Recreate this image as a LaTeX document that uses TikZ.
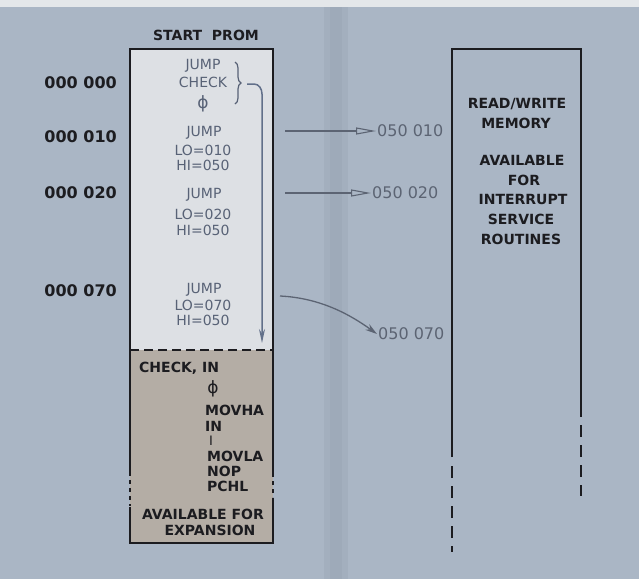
\documentclass[tikz,border=0pt]{standalone}
\usepackage{fontspec}
\setmainfont{DejaVu Sans}
\usetikzlibrary{arrows.meta,decorations.pathreplacing}
\definecolor{bg}{RGB}{170,182,197}
\definecolor{bgdark}{RGB}{158,170,185}
\definecolor{topstrip}{RGB}{228,231,234}
\definecolor{upperfill}{RGB}{221,224,228}
\definecolor{lowerfill}{RGB}{180,173,165}
\definecolor{upperink}{RGB}{88,98,118}
\definecolor{ink}{RGB}{28,28,32}
\definecolor{arrowblue}{RGB}{98,112,138}
\definecolor{addrink}{RGB}{92,100,115}
\tikzset{
  boxline/.style={draw=ink, line width=1.6pt},
  dashline/.style={draw=ink, line width=1.6pt, dash pattern=on 12pt off 8pt},
  sidedash/.style={draw=ink, line width=1.4pt, dash pattern=on 4pt off 4pt},
  divider/.style={draw=ink, line width=1.8pt, dash pattern=on 9pt off 5pt},
  addr/.style={anchor=east, inner sep=0pt, text=ink, font=\bfseries\fontsize{16}{18}\selectfont},
  utxt/.style={inner sep=0pt, text=upperink, font=\fontsize{14}{16}\selectfont},
  ltxt/.style={anchor=west, inner sep=0pt, text=ink, font=\bfseries\fontsize{14}{16}\selectfont},
  ctxt/.style={inner sep=0pt, text=ink, font=\bfseries\fontsize{14}{16}\selectfont},
  rtxt/.style={anchor=west, inner sep=1pt, text=addrink, font=\fontsize{16}{18}\selectfont},
  openarrow/.style={draw=addrink, line width=1.1pt, -{Triangle[open, length=20pt, width=7pt]}},
  curvearrow/.style={draw=addrink, line width=1.3pt, -{Stealth[length=12pt, width=7pt]}},
  bluearrow/.style={draw=arrowblue, line width=1.5pt, -{Stealth[length=14pt, width=6pt]}},
  bracestyle/.style={draw=upperink, line width=1.2pt, decorate, decoration={brace, amplitude=6pt}}
}
\begin{document}
\begin{tikzpicture}[x=1pt,y=-1pt]
\useasboundingbox (0,0) rectangle (639,579);
\fill[bg] (0,0) rectangle (639,579);
\fill[bgdark, opacity=0.5] (324,0) rectangle (348,579);
\fill[bgdark] (330,0) rectangle (342,579);
\fill[topstrip] (0,0) rectangle (639,7);

% left PROM box
\fill[upperfill] (130,49) rectangle (273,350);
\fill[lowerfill] (130,350) rectangle (273,543);
\draw[boxline] (130,350) -- (130,49) -- (273,49) -- (273,350);
\draw[divider] (130,350) -- (273,350);
\draw[boxline] (130,350) -- (130,476);
\draw[sidedash] (130,480) -- (130,506);
\draw[boxline] (130,507) -- (130,543) -- (273,543) -- (273,498);
\draw[boxline] (273,350) -- (273,477);
\draw[sidedash] (273,481) -- (273,497);

\node[ctxt] (title) at (206,35) {START\ \ PROM};

% addresses
\node[addr] (a0) at (117,83) {000 000};
\node[addr] (a1) at (117,137) {000 010};
\node[addr] (a2) at (117,193) {000 020};
\node[addr] (a7) at (117,291) {000 070};

% upper box contents
\node[utxt] (j0) at (203,66) {JUMP};
\node[utxt] (chk) at (203,82) {CHECK};
\node[utxt, font=\fontsize{17}{19}\selectfont] (phi0) at (203,104) {ϕ};
\node[utxt] (j1) at (204,133) {JUMP};
\node[utxt] (lo1) at (203,150) {LO=010};
\node[utxt] (hi1) at (203,165) {HI=050};
\node[utxt] (j2) at (204,195) {JUMP};
\node[utxt] (lo2) at (203,214) {LO=020};
\node[utxt] (hi2) at (203,230) {HI=050};
\node[utxt] (j7) at (204,290) {JUMP};
\node[utxt] (lo7) at (203,305) {LO=070};
\node[utxt] (hi7) at (203,320) {HI=050};

\draw[bracestyle] (235,62) -- (235,104);
\coordinate (bt) at (247,84);
\coordinate (bd) at (262,343);
\draw[bluearrow] (bt) -- (254,84) to[out=0,in=90] (262,94) -- (bd);

% lower box contents
\node[ltxt] (chkin) at (139,368) {CHECK, IN};
\node[ctxt, font=\fontsize{17}{19}\selectfont] (phi1) at (213,389) {ϕ};
\node[ltxt] (m1) at (205,410) {MOVHA};
\node[ltxt] (m2) at (205,426) {IN};
\node[ltxt, font=\fontsize{13}{15}\selectfont] (m3) at (209,441) {I};
\node[ltxt] (m4) at (207,456) {MOVLA};
\node[ltxt] (m5) at (207,471) {NOP};
\node[ltxt] (m6) at (207,486) {PCHL};
\node[ctxt] (av) at (203,514) {AVAILABLE FOR};
\node[ctxt] (ex) at (210,530) {EXPANSION};

% right RAM box
\draw[boxline] (452,457) -- (452,49) -- (581,49) -- (581,417);
\draw[dashline] (452,466) -- (452,552);
\draw[dashline] (581,425) -- (581,496);
\node[ctxt] (rw) at (517,104) {READ/WRITE};
\node[ctxt] (mem) at (516,123) {MEMORY};
\node[ctxt] (av2) at (522,160) {AVAILABLE};
\node[ctxt] (for) at (524,180) {FOR};
\node[ctxt] (intr) at (523,199) {INTERRUPT};
\node[ctxt] (serv) at (521,219) {SERVICE};
\node[ctxt] (rout) at (521,239) {ROUTINES};

% targets
\node[rtxt] (r1) at (376,131) {050 010};
\node[rtxt] (r2) at (371,193) {050 020};
\node[rtxt] (r7) at (377,334) {050 070};
\coordinate (s1) at (285,131);
\coordinate (s2) at (285,193);
\coordinate (s7) at (280,296);
\draw[openarrow] (s1) -- (r1.west);
\draw[openarrow] (s2) -- (r2.west);
\draw[curvearrow] (s7) .. controls (322,298) and (352,316) .. (r7.west);
\end{tikzpicture}
\end{document}
